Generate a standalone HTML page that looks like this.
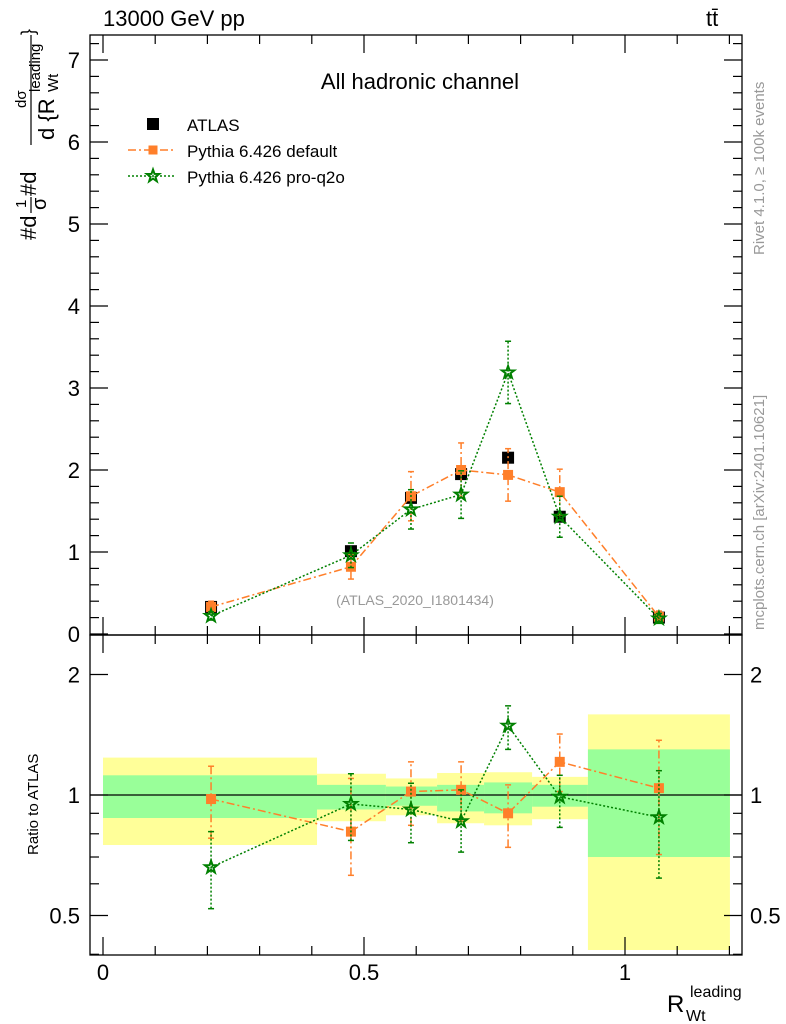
<!DOCTYPE html>
<html><head><meta charset="utf-8"><style>
body{margin:0;background:#fff;}
svg{display:block;font-family:"Liberation Sans",sans-serif;}
</style></head><body>
<svg id="c" width="786" height="1024" viewBox="0 0 786 1024"></svg>
<script>
const xCenters=[0.207,0.475,0.59,0.686,0.776,0.875,1.065];
const binEdges=[0,0.41,0.542,0.64,0.73,0.822,0.929,1.201];
const atlasVals=[0.33,1.01,1.66,1.95,2.15,1.43,0.2];
const atlasErr=[0.03,0.05,0.07,0.07,0.08,0.06,0.02];
const defVals=[0.33,0.82,1.68,2.0,1.94,1.73,0.21];
const defErr=[0.07,0.15,0.3,0.33,0.32,0.28,0.07];
const proVals=[0.22,0.96,1.52,1.70,3.19,1.43,0.19];
const proErr=[0.05,0.15,0.24,0.29,0.38,0.25,0.06];
const defRatio=[0.977,0.81,1.02,1.03,0.90,1.21,1.04];
const defRatioUp=[1.18,1.10,1.21,1.21,1.06,1.42,1.37];
const defRatioDn=[0.78,0.63,0.84,0.86,0.74,1.02,0.71];
const proRatio=[0.66,0.95,0.92,0.86,1.49,0.99,0.88];
const proRatioUp=[0.81,1.13,1.07,1.03,1.67,1.12,1.15];
const proRatioDn=[0.52,0.77,0.76,0.72,1.30,0.83,0.62];
const greenHi=[1.12,1.06,1.05,1.06,1.075,1.06,1.30];
const greenLo=[0.876,0.92,0.94,0.91,0.90,0.935,0.70];
const yellowHi=[1.24,1.13,1.10,1.135,1.14,1.11,1.59];
const yellowLo=[0.75,0.86,0.89,0.85,0.84,0.87,0.41];
const xTicks=[0,0.5,1];
const yTicks=[0,1,2,3,4,5,6,7];
const rTicks=[0.5,1,2];

const S=document.getElementById('c');const NS='http://www.w3.org/2000/svg';
function el(t,a,txt){const e=document.createElementNS(NS,t);for(const k in a)e.setAttribute(k,a[k]);if(txt!=null)e.textContent=txt;S.appendChild(e);return e;}
const L=90,R=742,T=35,M=635,B=955;
const X=v=>103+522*v;
const Y=v=>634-82*v;
const YR=v=>795-120.5*Math.log2(v);

for(let i=0;i<greenHi.length;i++){
  let e=el('rect',{x:X(binEdges[i]),y:YR(yellowHi[i]),width:X(binEdges[i+1])-X(binEdges[i]),height:YR(yellowLo[i])-YR(yellowHi[i]),fill:'#ffff99'});
  
  
  e=el('rect',{x:X(binEdges[i]),y:YR(greenHi[i]),width:X(binEdges[i+1])-X(binEdges[i]),height:YR(greenLo[i])-YR(greenHi[i]),fill:'#99ff99'});
  
  
}
el('line',{x1:L,x2:R,y1:YR(1),y2:YR(1),stroke:'#000','stroke-width':1.3,});

el('rect',{x:L,y:T,width:R-L,height:M-T,fill:'none',stroke:'#000','stroke-width':1.3,});
el('rect',{x:L,y:M,width:R-L,height:B-M,fill:'none',stroke:'#000','stroke-width':1.3,});

for(let v=0;v<=1.22;v+=0.1){const x=X(v);const maj=Math.abs(v*2-Math.round(v*2))<1e-6;const h=maj?18:9;
 [[M,-1],[T,1],[B,-1],[M,1]].forEach(([y,d])=>el('line',{x1:x,x2:x,y1:y,y2:y+d*h,stroke:'#000','stroke-width':1.2}));}
xTicks.forEach(v=>{const t=el('text',{x:X(v),y:980,'font-size':22,'text-anchor':'middle'},v);
 
 });
for(let v=0;v<=7.3;v+=0.2){const y=Y(v);const maj=Math.abs(v-Math.round(v))<1e-6;const h=maj?18:9;
 el('line',{x1:L,x2:L+h,y1:y,y2:y,stroke:'#000','stroke-width':1.2});el('line',{x1:R,x2:R-h,y1:y,y2:y,stroke:'#000','stroke-width':1.2});}
yTicks.forEach(v=>{const t=el('text',{x:80,y:Y(v)+8,'font-size':22,'text-anchor':'end'},v);
 
 });
[0.4,0.5,0.6,0.7,0.8,0.9,1,2].forEach(v=>{const y=YR(v);const maj=[0.5,1,2].includes(v);const h=maj?18:9;
 el('line',{x1:L,x2:L+h,y1:y,y2:y,stroke:'#000','stroke-width':1.2});el('line',{x1:R,x2:R-h,y1:y,y2:y,stroke:'#000','stroke-width':1.2});});
rTicks.forEach(v=>{let t=el('text',{x:80,y:YR(v)+8,'font-size':22,'text-anchor':'end'},v);
 
 
 t=el('text',{x:750,y:YR(v)+8,'font-size':22},v);
 
 });

function line(vals,fy,color,dash,name){const p=vals.map((v,i)=>X(xCenters[i])+','+fy(v)).join(' ');
 const e=el('polyline',{points:p,fill:'none',stroke:color,'stroke-width':1.5,'stroke-dasharray':dash});
 
 }
function errs(vals,lo,hi,fy,color,dash){vals.forEach((v,i)=>{const x=X(xCenters[i]);
 el('line',{x1:x,x2:x,y1:fy(lo[i]),y2:fy(hi[i]),stroke:color,'stroke-width':1.5,'stroke-dasharray':dash});
 el('line',{x1:x-3,x2:x+3,y1:fy(lo[i]),y2:fy(lo[i]),stroke:color,'stroke-width':1.5});
 el('line',{x1:x-3,x2:x+3,y1:fy(hi[i]),y2:fy(hi[i]),stroke:color,'stroke-width':1.5});});}
function sq(x,y,s,c,name){const e=el('rect',{x:x-s/2,y:y-s/2,width:s,height:s,fill:c});
 
 }
function star(x,y,name){let p=[];for(let k=0;k<10;k++){const r=k%2?2.6:6.5;const a=-Math.PI/2+k*Math.PI/5;p.push((x+r*Math.cos(a))+','+(y+r*Math.sin(a)));}
 const e=el('polygon',{points:p.join(' '),fill:'none',stroke:'#008000','stroke-width':2});
 
 }

atlasVals.forEach((v,i)=>{const x=X(xCenters[i]);el('line',{x1:x,x2:x,y1:Y(v-atlasErr[i]),y2:Y(v+atlasErr[i]),stroke:'#000','stroke-width':1.5});sq(x,Y(v),12,'#000','atlas-point');});
const OR='#ff7f2a',GR='#008000';
line(defVals,Y,OR,'8,3,2,3','default-line');
errs(defVals,defVals.map((v,i)=>v-defErr[i]),defVals.map((v,i)=>v+defErr[i]),Y,OR,'8,3,2,3');
defVals.forEach((v,i)=>sq(X(xCenters[i]),Y(v),10,OR,'default-point'));
line(proVals,Y,GR,'2,2','pro-q2o-line');
errs(proVals,proVals.map((v,i)=>v-proErr[i]),proVals.map((v,i)=>v+proErr[i]),Y,GR,'2,2');
proVals.forEach((v,i)=>star(X(xCenters[i]),Y(v),'pro-q2o-point'));
line(defRatio,YR,OR,'8,3,2,3','default-ratio-line');
errs(defRatio,defRatioDn,defRatioUp,YR,OR,'8,3,2,3');
defRatio.forEach((v,i)=>sq(X(xCenters[i]),YR(v),10,OR,'default-ratio-point'));
line(proRatio,YR,GR,'2,2','pro-q2o-ratio-line');
errs(proRatio,proRatioDn,proRatioUp,YR,GR,'2,2');
proRatio.forEach((v,i)=>star(X(xCenters[i]),YR(v),'pro-q2o-ratio-point'));

el('text',{x:103,y:26,'font-size':22,},'13000 GeV pp');
el('text',{x:706,y:26,'font-size':22,},'tt̄');
el('text',{x:420,y:89,'font-size':22,'text-anchor':'middle',},'All hadronic channel');
el('text',{x:415,y:605,'font-size':14,fill:'#999','text-anchor':'middle',},'(ATLAS_2020_I1801434)');
sq(153,124,12,'#000','legend-atlas-marker');
el('text',{x:187,y:131,'font-size':17,},'ATLAS');
el('line',{x1:128,x2:175,y1:150,y2:150,stroke:OR,'stroke-width':1.5,'stroke-dasharray':'8,3,2,3'});
sq(153,150,9,OR,'legend-default-marker');
el('text',{x:187,y:157,'font-size':17,},'Pythia 6.426 default');
el('line',{x1:128,x2:175,y1:176,y2:176,stroke:GR,'stroke-width':1.5,'stroke-dasharray':'2,2'});
star(153,176,'legend-pro-q2o-marker');
el('text',{x:187,y:183,'font-size':17,},'Pythia 6.426 pro-q2o');
// x axis title
el('text',{x:667,y:1012,'font-size':24,},'R');
el('text',{x:690,y:997,'font-size':16,},'leading');
el('text',{x:686,y:1021,'font-size':16,},'Wt');
// y axis title (rotated pieces)
function rt(x,y,s,txt,name){const e=el('text',{x:0,y:0,'font-size':s,transform:'translate('+x+','+y+') rotate(-90)'},txt);
 
 }
rt(36,240,22,'#d','y-axis-title');
rt(26,208,15,'1','y-axis-frac1-num');
rt(46,210,20,'σ','y-axis-frac1-den');
el('line',{x1:31,x2:31,y1:197,y2:213,stroke:'#000','stroke-width':1.2});
rt(36,196,22,'#d','y-axis-d');
rt(26,108,15,'dσ','y-axis-num');
rt(54,140,22,'d {R','y-axis-den');
rt(40,92,15,'leading','y-axis-leading');
rt(58,92,15,'Wt','y-axis-wt');
rt(34,35,18,'}','y-axis-brace');
el('line',{x1:31,x2:31,y1:35,y2:145,stroke:'#000','stroke-width':1.2});
el('text',{x:0,y:0,'font-size':15,transform:'translate(38,855) rotate(-90)',},'Ratio to ATLAS');
el('text',{x:0,y:0,'font-size':15,fill:'#999',transform:'translate(764,255) rotate(-90)',},'Rivet 4.1.0, ≥ 100k events');
el('text',{x:0,y:0,'font-size':15,fill:'#999',transform:'translate(764,630) rotate(-90)',},'mcplots.cern.ch [arXiv:2401.10621]');
</script>
</body></html>
